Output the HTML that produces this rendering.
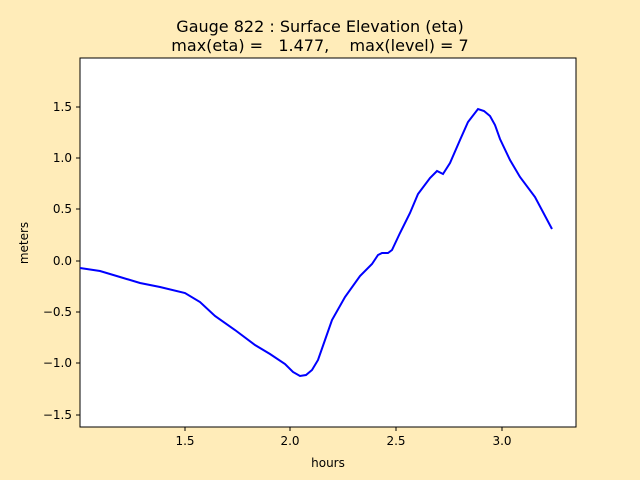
<!DOCTYPE html>
<html><head><style>body{margin:0;background:#ffecb9}svg{display:block}text{font-family:"DejaVu Sans","Liberation Sans",sans-serif;fill:#000}</style></head>
<body><svg width="640" height="480" xmlns="http://www.w3.org/2000/svg">
<rect width="640" height="480" fill="#ffecb9"/>
<rect x="80" y="58" width="496" height="369" fill="#fff" stroke="#000" stroke-width="1"/>
<text x="320" y="32" font-size="16" text-anchor="middle">Gauge 822 : Surface Elevation (eta)</text>
<text x="320" y="51" font-size="16" text-anchor="middle" xml:space="preserve">max(eta) =   1.477,    max(level) = 7</text>
<g stroke="#000" stroke-width="1">
<line x1="185" y1="427" x2="185" y2="431"/><line x1="290" y1="427" x2="290" y2="431"/><line x1="396" y1="427" x2="396" y2="431"/><line x1="502" y1="427" x2="502" y2="431"/>
<line x1="76" y1="107" x2="80" y2="107"/><line x1="76" y1="158" x2="80" y2="158"/><line x1="76" y1="209" x2="80" y2="209"/><line x1="76" y1="261" x2="80" y2="261"/><line x1="76" y1="312" x2="80" y2="312"/><line x1="76" y1="363" x2="80" y2="363"/><line x1="76" y1="415" x2="80" y2="415"/>
</g>
<g font-size="12" text-anchor="middle">
<text x="185" y="445">1.5</text><text x="290" y="445">2.0</text><text x="396" y="445">2.5</text><text x="502" y="445">3.0</text>
<text x="328" y="467">hours</text>
</g>
<g font-size="12" text-anchor="end">
<text x="72" y="111">1.5</text><text x="72" y="162">1.0</text><text x="72" y="213">0.5</text><text x="72" y="265">0.0</text><text x="72" y="316">−0.5</text><text x="72" y="367">−1.0</text><text x="72" y="419">−1.5</text>
</g>
<text transform="translate(28,243) rotate(-90)" font-size="12" text-anchor="middle">meters</text>
<polyline fill="none" stroke="#0000ff" stroke-width="2" points="80,268 100,271 120,277 140,283 160,287 185,293 200,302 215,316 235,330 255,345 270,354 285,364 293,372 300,376 306,375 312,370 318,360 325,340 332,320 345,297 360,276 372,264 378,255 382,253 388,253 392,250 400,233 410,213 418,194 430,178 437,171 443,174 450,163 460,140 468,122 478,109 484,111 490,116 495,125 500,139 510,160 520,177 535,197 552,229"/>
</svg></body></html>
